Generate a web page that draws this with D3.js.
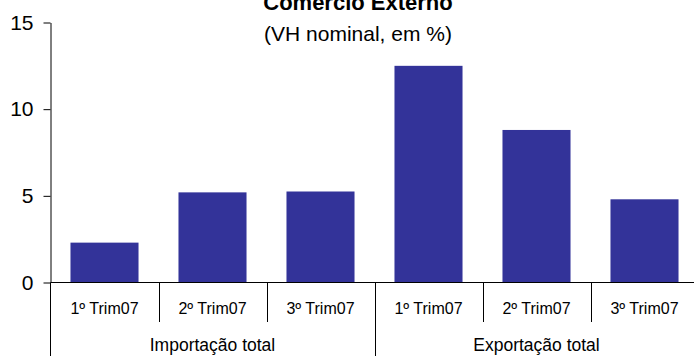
<!DOCTYPE html>
<html>
<head>
<meta charset="utf-8">
<script src="https://cdn.jsdelivr.net/npm/d3@7"></script>
<style>
  body { margin: 0; background: #fff; }
  svg { display: block; font-family: "Liberation Sans", Arial, sans-serif; }
</style>
</head>
<body>
<div id="chart"></div>
<script>
// data
var groups = ["Importação total", "Exportação total"]
var quarters = ["1º Trim07", "2º Trim07", "3º Trim07"]
var importValues = [2.3, 5.2, 5.25]
var exportValues = [12.5, 8.8, 4.8]
var yTicks = [0, 5, 10, 15]

var width = 694,
    height = 356

var rows = []
quarters.forEach(function(q, i) { rows.push({ group: groups[0], quarter: q, value: importValues[i] }) })
quarters.forEach(function(q, i) { rows.push({ group: groups[1], quarter: q, value: exportValues[i] }) })
rows.forEach(function(d, i) { d.key = i })

var x = d3.scaleBand()
    .domain(rows.map(function(d) { return d.key }))
    .range([50.5, 698.5])
    .paddingInner(0.37)
    .paddingOuter(0.185)

var y = d3.scaleLinear()
    .domain([0, 15])
    .range([282.5, 22.5])

var svg = d3.select("#chart")
    .append("svg")
    .attr("width", width)
    .attr("height", height)

// title (cut by the top edge, as in the original)
svg.append("text")
    .attr("x", 358).attr("y", 10)
    .attr("text-anchor", "middle")
    .style("font-size", "22px")
    .style("font-weight", "bold")
    .text("Comercio Externo")

svg.append("text")
    .attr("x", 358).attr("y", 41)
    .attr("text-anchor", "middle")
    .style("font-size", "21px")
    .text("(VH nominal, em %)")

// bars
svg.selectAll("rect.bar")
    .data(rows)
    .enter()
    .append("rect")
    .attr("class", "bar")
    .attr("x", function(d) { return x(d.key) })
    .attr("width", x.bandwidth())
    .attr("y", function(d) { return y(d.value) })
    .attr("height", function(d) { return y(0) - y(d.value) })
    .attr("fill", "#333399")

// y axis
var yAxis = svg.append("g")
    .attr("transform", "translate(50.5,0)")
    .call(d3.axisLeft(y).tickValues(yTicks).tickSize(7).tickSizeOuter(0).tickPadding(10))
yAxis.selectAll("text").style("font-size", "21px").attr("fill", "#000")
yAxis.selectAll("line, path").attr("stroke", "#000")

// axis line continues down through the category area
svg.append("line")
    .attr("x1", 50.5).attr("x2", 50.5)
    .attr("y1", y(0)).attr("y2", height)
    .attr("stroke", "#000")

// baseline
svg.append("line")
    .attr("x1", 50.5).attr("x2", 698.5)
    .attr("y1", y(0)).attr("y2", y(0))
    .attr("stroke", "#000")

// category dividers: short ones between quarters, long ones between groups
var step = x.step()
rows.forEach(function(d, i) {
    if (i == 0) return
    var bx = Math.round(x(d.key) - x.paddingInner() * step / 2) + 0.5
    var isGroup = i % quarters.length == 0
    svg.append("line")
        .attr("x1", bx).attr("x2", bx)
        .attr("y1", y(0)).attr("y2", isGroup ? height : 322)
        .attr("stroke", "#000")
})

// quarter labels
svg.selectAll("text.quarter")
    .data(rows)
    .enter()
    .append("text")
    .attr("class", "quarter")
    .attr("x", function(d) { return x(d.key) + x.bandwidth() / 2 })
    .attr("y", 314)
    .attr("text-anchor", "middle")
    .style("font-size", "16px")
    .text(function(d) { return d.quarter })

// group labels
groups.forEach(function(g, gi) {
    var first = rows[gi * quarters.length], last = rows[gi * quarters.length + quarters.length - 1]
    var cx = (x(first.key) + x(last.key) + x.bandwidth()) / 2
    svg.append("text")
        .attr("x", cx)
        .attr("y", 351)
        .attr("text-anchor", "middle")
        .style("font-size", "17.5px")
        .text(g)
})
</script>
</body>
</html>
